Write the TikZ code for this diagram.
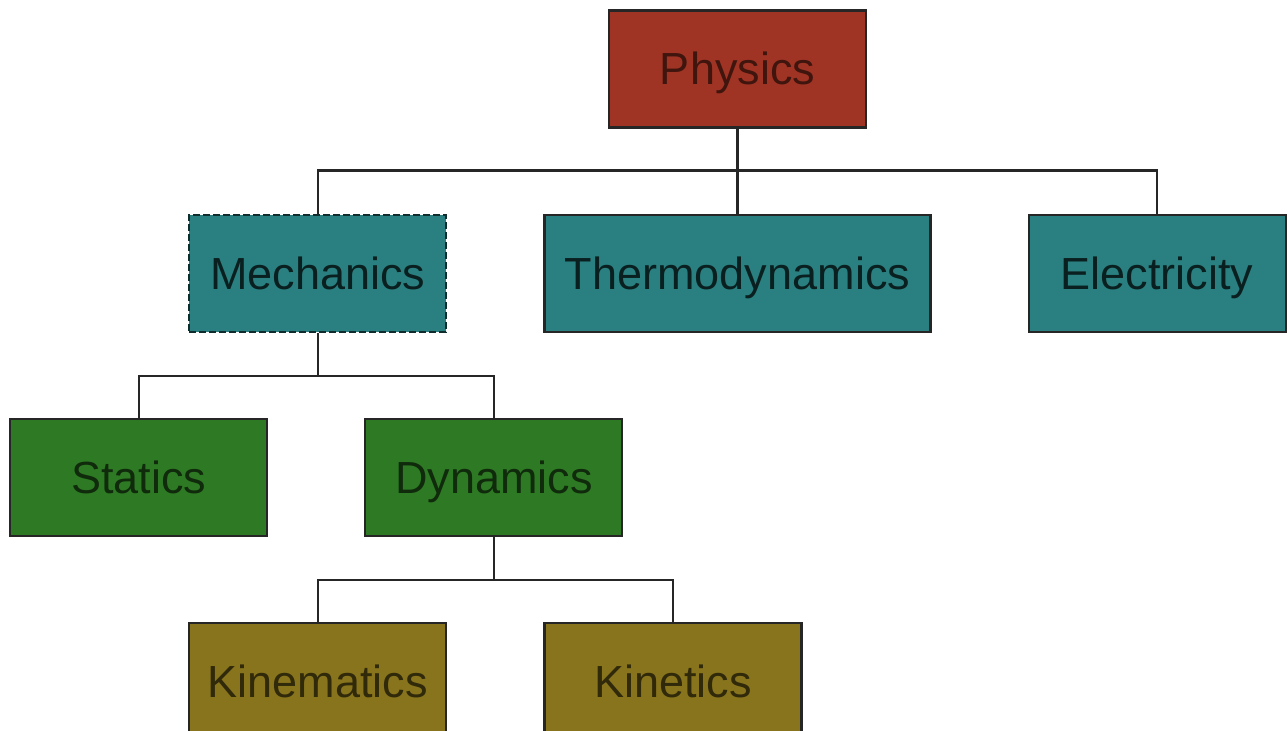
\documentclass[tikz,border=0pt]{standalone}
\usepackage{fontspec}
\setmainfont{Liberation Sans}
\usetikzlibrary{positioning}
\definecolor{rootred}{RGB}{160, 52, 36}
\definecolor{branchteal}{RGB}{42, 128, 128}
\definecolor{subgreen}{RGB}{46, 122, 36}
\definecolor{leafolive}{RGB}{136, 116, 28}
\tikzset{
    topic/.style={rectangle, draw=black!85, line width=2.2pt, minimum width=257pt, minimum height=117pt, inner sep=0pt, text height=32pt, text depth=0pt, text centered, font=\fontsize{45}{52}\selectfont},
    root/.style={topic, fill=rootred, text=rootred!40!black},
    branch/.style={topic, fill=branchteal, text=branchteal!25!black},
    subfield/.style={topic, fill=subgreen, text=subgreen!35!black},
    leaf/.style={topic, fill=leafolive, text=leafolive!35!black},
    link/.style={draw, line width=2.2pt, color=black!85}
}
\begin{document}
\begin{tikzpicture}[x=1pt, y=1pt, node distance=85pt and 96pt]
        \useasboundingbox (0,0) rectangle (1288,731);
        \clip (0,0) rectangle (1288,731);

        \node [root] at (737.5,662) (physics) {Physics};

        \node [branch, minimum width=386pt, below=of physics] (thermo) {Thermodynamics};
        \node [branch, left=of thermo, draw=branchteal!35!black, dash pattern=on 7pt off 3pt, preaction={draw=white, solid, line width=2.2pt}] (mechanics) {Mechanics};
        \node [branch, right=of thermo] (electricity) {Electricity};

        \node [subfield, below=of mechanics, xshift=176pt] (dynamics) {Dynamics};
        \node [subfield, left=of dynamics] (statics) {Statics};

        \node [leaf, below=of dynamics, xshift=-176pt] (kinematics) {Kinematics};
        \node [leaf, right=of kinematics] (kinetics) {Kinetics};

        % Draws
        \draw [link] (physics.south) -- ++(0,-42) -| (mechanics.north);
        \draw [link] (physics.south) -- (thermo.north);
        \draw [link] (physics.south) -- ++(0,-42) -| (electricity.north);
        \draw [link] (mechanics.south) -- ++(0,-43) -| (statics.north);
        \draw [link] (mechanics.south) -- ++(0,-43) -| (dynamics.north);
        \draw [link] (dynamics.south) -- ++(0,-43) -| (kinematics.north);
        \draw [link] (dynamics.south) -- ++(0,-43) -| (kinetics.north);

    \end{tikzpicture}
\end{document}
